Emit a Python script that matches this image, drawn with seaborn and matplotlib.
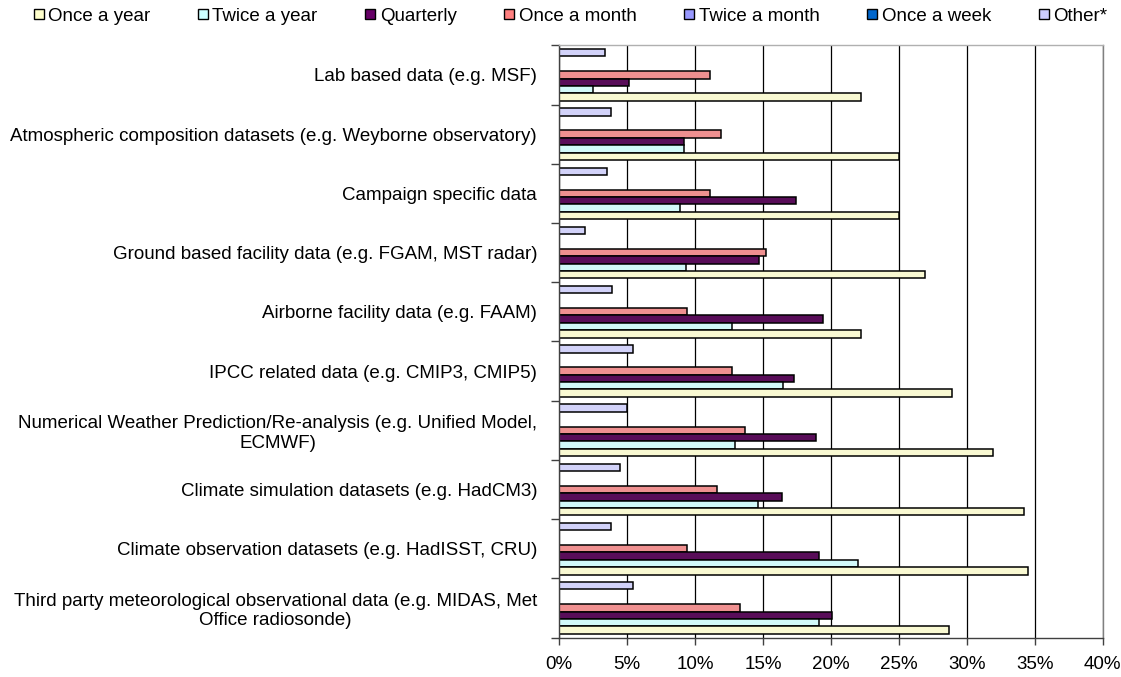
import numpy as np
import pandas as pd
import matplotlib
matplotlib.use("Agg")
import matplotlib.pyplot as plt
from matplotlib.lines import Line2D
from matplotlib.ticker import FixedLocator, FuncFormatter
import seaborn as sns

# categories, top to bottom as drawn
categories = [
    "Lab based data (e.g. MSF)",
    "Atmospheric composition datasets (e.g. Weyborne observatory)",
    "Campaign specific data",
    "Ground based facility data (e.g. FGAM, MST radar)",
    "Airborne facility data (e.g. FAAM)",
    "IPCC related data (e.g. CMIP3, CMIP5)",
    "Numerical Weather Prediction/Re-analysis (e.g. Unified Model,\nECMWF)",
    "Climate simulation datasets (e.g. HadCM3)",
    "Climate observation datasets (e.g. HadISST, CRU)",
    "Third party meteorological observational data (e.g. MIDAS, Met\nOffice radiosonde)",
]

# values in percent
once_a_year = [22.2, 25.0, 25.0, 26.9, 22.2, 28.9, 31.9, 34.2, 34.5, 28.7]
twice_a_year = [2.5, 9.2, 8.9, 9.3, 12.7, 16.5, 12.9, 14.6, 22.0, 19.1]
quarterly = [5.1, 9.2, 17.4, 14.7, 19.4, 17.3, 18.9, 16.4, 19.1, 20.1]
once_a_month = [11.1, 11.9, 11.1, 15.2, 9.4, 12.7, 13.7, 11.6, 9.4, 13.3]
twice_a_month = [0, 0, 0, 0, 0, 0, 0, 0, 0, 0]
once_a_week = [0, 0, 0, 0, 0, 0, 0, 0, 0, 0]
other = [3.4, 3.8, 3.5, 1.9, 3.9, 5.4, 5.0, 4.5, 3.8, 5.4]

series_names = ["Once a year", "Twice a year", "Quarterly", "Once a month",
                "Twice a month", "Once a week", "Other*"]
series_values = [once_a_year, twice_a_year, quarterly, once_a_month,
                 twice_a_month, once_a_week, other]
colors = ["#FFFFCC", "#CCFFFF", "#660066", "#FF8080",
          "#9999FF", "#0066CC", "#CCCCFF"]

df = pd.DataFrame({
    "category": categories * len(series_names),
    "freq": [s for s in series_names for _ in categories],
    "value": np.concatenate(series_values),
})
palette = dict(zip(series_names, colors))

sns.set_theme(style="white")
plt.rcParams["font.family"] = ["Liberation Sans", "DejaVu Sans"]
plt.rcParams["text.color"] = "black"
plt.rcParams["xtick.color"] = "black"
plt.rcParams["ytick.color"] = "black"

fig = plt.figure(figsize=(11.21, 6.77), dpi=100)
W, H = 1121, 677
ax = fig.add_axes([559.3 / W, 1 - 637.5 / H, (1102.7 - 559.3) / W, (637.5 - 45.3) / H])

# first hue level is drawn on top, so reverse to get "Once a year" at the bottom
sns.barplot(data=df, x="value", y="category", hue="freq", order=categories,
            hue_order=series_names[::-1], palette=palette, width=0.873,
            edgecolor="black", linewidth=1.1, legend=False, ax=ax, orient="h")

ax.set_xlim(0, 40)
ax.set_ylim(len(categories) - 0.5, -0.5)
ax.set_xlabel("")
ax.set_ylabel("")

ax.set_xticks(np.arange(0, 41, 5))
ax.xaxis.set_major_formatter(FuncFormatter(lambda v, p: f"{v:.0f}%"))
ax.tick_params(axis="x", direction="out", length=5, width=1, color="#404040",
               labelsize=13.5, pad=8, bottom=True, labelcolor="black")
ax.grid(axis="x", color="black", linewidth=0.9)
ax.set_axisbelow(True)

ax.yaxis.set_minor_locator(FixedLocator(np.arange(-0.5, len(categories), 1)))
ax.tick_params(axis="y", which="major", length=0, labelsize=13.5, pad=16,
               labelcolor="black")
ax.tick_params(axis="y", which="minor", direction="out", length=6, width=1,
               color="#404040", left=True)
for lbl in ax.get_yticklabels():
    lbl.set_multialignment("center")

for side in ["left", "bottom"]:
    ax.spines[side].set_color("#404040")
    ax.spines[side].set_linewidth(1)
ax.spines["top"].set_color("#B0B0B0")
ax.spines["top"].set_linewidth(1)
ax.spines["right"].set_color("#808080")
ax.spines["right"].set_linewidth(1)

handles = [Line2D([], [], linestyle="", marker="s", markersize=7,
                  markerfacecolor=c, markeredgecolor="black",
                  markeredgewidth=1.0) for c in colors]
fig.legend(handles, series_names, loc="upper center", bbox_to_anchor=(0.509, 1.005),
           ncol=7, frameon=False, fontsize=13.5, handlelength=0.5,
           handletextpad=0.25, columnspacing=2.56, borderaxespad=0.2,
           labelcolor="black")

fig.savefig("out.png", dpi=100)
